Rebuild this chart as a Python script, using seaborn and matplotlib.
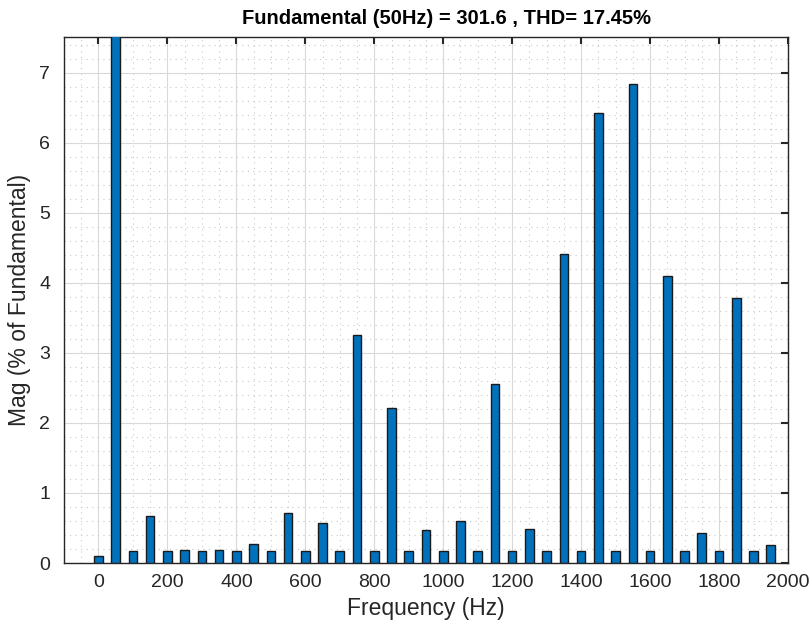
import numpy as np
import pandas as pd
import matplotlib
matplotlib.use("Agg")
import matplotlib.pyplot as plt
import seaborn as sns
from matplotlib.ticker import MultipleLocator

# Data (harmonic spectrum, % of fundamental)
freqs = [0, 50, 100, 150, 200, 250, 300, 350, 400, 450, 500, 550, 600, 650, 700,
         750, 800, 850, 900, 950, 1000, 1050, 1100, 1150, 1200, 1250, 1300, 1350,
         1400, 1450, 1500, 1550, 1600, 1650, 1700, 1750, 1800, 1850, 1900, 1950]
mags = [0.10, 100.0, 0.17, 0.67, 0.17, 0.18, 0.17, 0.18, 0.17, 0.275, 0.17, 0.72,
        0.17, 0.565, 0.17, 3.26, 0.17, 2.21, 0.17, 0.47, 0.17, 0.60, 0.17, 2.56,
        0.17, 0.485, 0.17, 4.41, 0.17, 6.42, 0.17, 6.84, 0.17, 4.10, 0.17, 0.435,
        0.17, 3.79, 0.17, 0.25]
xticks = [0, 200, 400, 600, 800, 1000, 1200, 1400, 1600, 1800, 2000]
yticks = [0, 1, 2, 3, 4, 5, 6, 7]
title = "Fundamental (50Hz) = 301.6 , THD= 17.45%"

df = pd.DataFrame({"Frequency": freqs, "Mag": mags})

sns.set_theme(style="white")
plt.rcParams['font.family'] = ['Liberation Sans', 'DejaVu Sans']

fig = plt.figure(figsize=(8.12, 6.32), dpi=100)
ax = fig.add_axes([64/812, 1-563/632, (788-64)/812, (563-37)/632])

sns.barplot(data=df, x="Frequency", y="Mag", native_scale=True, width=0.5,
            color="#0072BD", saturation=1, edgecolor="#1a1a1a", linewidth=1.0,
            ax=ax, zorder=3)

ax.set_xlim(-100, 2000)
ax.set_ylim(0, 7.51)
ax.set_xticks(xticks)
ax.set_yticks(yticks)
ax.xaxis.set_minor_locator(MultipleLocator(50))
ax.yaxis.set_minor_locator(MultipleLocator(0.2))

ax.grid(True, which="major", color="#d9d9d9", linewidth=0.8, linestyle="-", zorder=0)
ax.grid(True, which="minor", color="#c8c8c8", linewidth=0.8, linestyle=(0, (1, 4)), zorder=0)
ax.set_axisbelow(True)

ax.tick_params(axis="both", which="major", direction="in", length=5, width=1.5,
               colors="#262626", labelsize=14, top=True, right=True,
               labelcolor="#262626", pad=8)
ax.tick_params(axis="y", which="major", pad=10)
ax.tick_params(axis="both", which="minor", length=0)

for s in ax.spines.values():
    s.set_color("#262626")
    s.set_linewidth(1.0)
    s.set_visible(True)

ax.set_xlabel("Frequency (Hz)", fontsize=16.5, color="#262626", labelpad=4)
ax.set_ylabel("Mag (% of Fundamental)", fontsize=16.5, color="#262626", labelpad=6)
ax.set_title(title, fontsize=14.5, fontweight="bold", color="#000000", pad=9,
             x=0.529,
             family=['Liberation Sans Narrow', 'Liberation Sans', 'DejaVu Sans'])

fig.savefig("out.png", dpi=100)
